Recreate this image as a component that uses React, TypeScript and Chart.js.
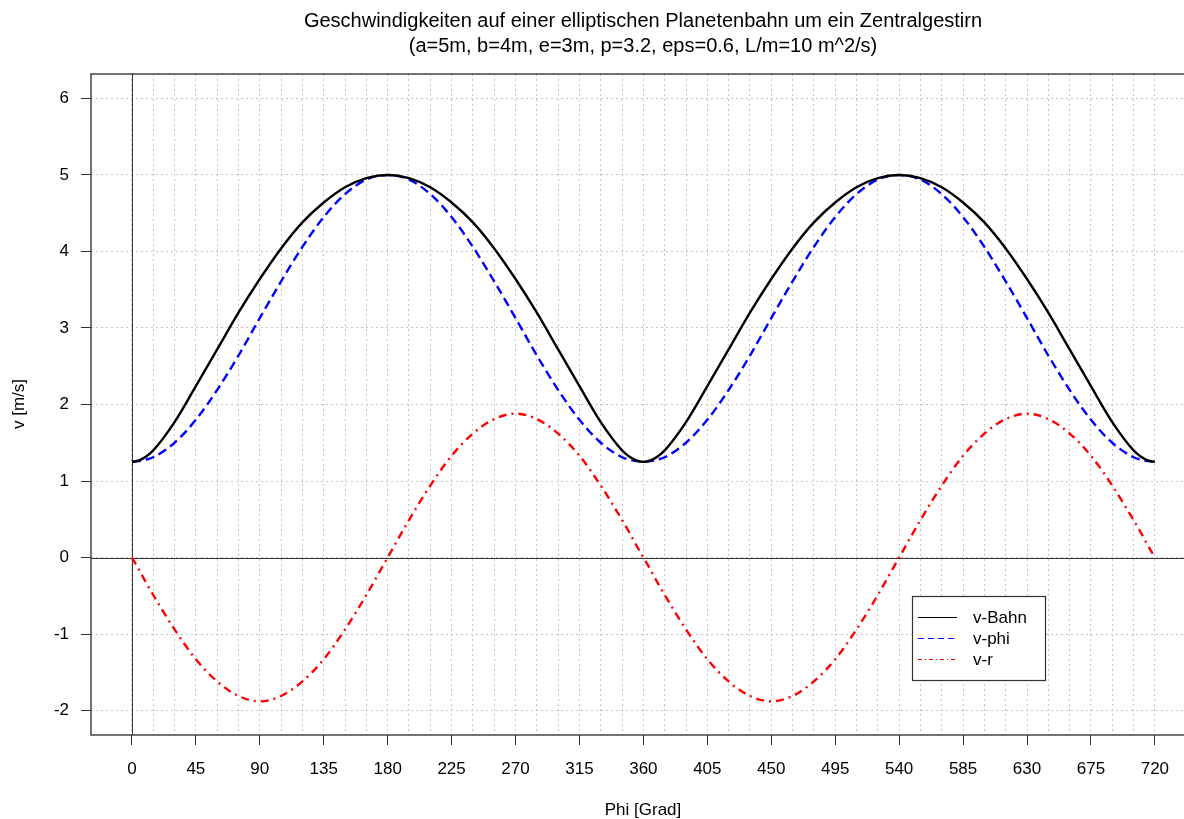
import React, { useEffect, useRef } from 'react';
import { Chart, registerables } from 'chart.js';

Chart.register(...registerables);

// ---- data ----
const phiDeg = [
  0, 5, 10, 15, 30, 45, 60, 75, 90, 105, 120, 135, 150, 165, 180, 195, 210, 225, 240, 255, 270, 285, 300, 315, 330, 345,
  350, 355, 360, 365, 370,
  375, 390, 405, 420, 435, 450, 465, 480, 495, 510, 525, 540, 555, 570, 585, 600, 615, 630, 645, 660, 675, 690, 705,
  710, 715, 720,
];
const vBahn = [
  1.25, 1.27, 1.32, 1.40, 1.77, 2.24, 2.72, 3.20, 3.64, 4.04, 4.38, 4.64, 4.84, 4.96, 5.0, 4.96, 4.84, 4.64, 4.38, 4.04, 3.64, 3.20, 2.72, 2.24, 1.77, 1.40,
  1.32, 1.27, 1.25, 1.27, 1.32,
  1.40, 1.77, 2.24, 2.72, 3.20, 3.64, 4.04, 4.38, 4.64, 4.84, 4.96, 5.0, 4.96, 4.84, 4.64, 4.38, 4.04, 3.64, 3.20, 2.72, 2.24, 1.77, 1.40,
  1.32, 1.27, 1.25,
];
const vPhi = [
  1.25, 1.26, 1.28, 1.31, 1.50, 1.80, 2.19, 2.64, 3.13, 3.61, 4.06, 4.45, 4.75, 4.94, 5.0, 4.94, 4.75, 4.45, 4.06, 3.61, 3.13, 2.64, 2.19, 1.80, 1.50, 1.31,
  1.28, 1.26, 1.25, 1.26, 1.28,
  1.31, 1.50, 1.80, 2.19, 2.64, 3.13, 3.61, 4.06, 4.45, 4.75, 4.94, 5.0, 4.94, 4.75, 4.45, 4.06, 3.61, 3.13, 2.64, 2.19, 1.80, 1.50, 1.31,
  1.28, 1.26, 1.25,
];
const vR = [
  0, -0.16, -0.33, -0.49, -0.94, -1.33, -1.62, -1.81, -1.88, -1.81, -1.62, -1.33, -0.94, -0.49, 0, 0.49, 0.94, 1.33, 1.62, 1.81, 1.88, 1.81, 1.62, 1.33, 0.94, 0.49,
  0.33, 0.16, 0, -0.16, -0.33,
  -0.49, -0.94, -1.33, -1.62, -1.81, -1.88, -1.81, -1.62, -1.33, -0.94, -0.49, 0, 0.49, 0.94, 1.33, 1.62, 1.81, 1.88, 1.81, 1.62, 1.33, 0.94, 0.49,
  0.33, 0.16, 0,
];

const xTickValues = [0, 45, 90, 135, 180, 225, 270, 315, 360, 405, 450, 495, 540, 585, 630, 675, 720];
const xGridStep = 15;
const yTickValues = [-2, -1, 0, 1, 2, 3, 4, 5, 6];

const titleLines = [
  'Geschwindigkeiten auf einer elliptischen Planetenbahn um ein Zentralgestirn',
  '(a=5m, b=4m, e=3m, p=3.2, eps=0.6, L/m=10 m^2/s)',
];
const xTitle = 'Phi [Grad]';
const yTitle = 'v [m/s]';
const seriesNames = ['v-Bahn', 'v-phi', 'v-r'];
const seriesColors = ['#000000', '#0000ff', '#ff0000'];
const seriesDash = [[], [9, 5], [8, 5, 2, 5]];
const legendDash = [[], [6, 4], [4, 3, 1, 3]];

const FONT = "'Liberation Sans', Arial, sans-serif";
const W = 1184;
const H = 819;

const decorPlugin = {
  id: 'decor',
  beforeDatasetsDraw(chart: any) {
    const { ctx, chartArea: a, scales } = chart;
    const x0 = scales.x.getPixelForValue(0);
    const y0 = scales.y.getPixelForValue(0);
    ctx.save();
    ctx.strokeStyle = '#333';
    ctx.lineWidth = 1;
    ctx.setLineDash([]);
    ctx.beginPath();
    ctx.moveTo(Math.round(x0) + 0.5, a.top);
    ctx.lineTo(Math.round(x0) + 0.5, a.bottom);
    ctx.moveTo(a.left, Math.round(y0) + 0.5);
    ctx.lineTo(a.right, Math.round(y0) + 0.5);
    ctx.stroke();
    // box (right side lies outside the canvas)
    ctx.lineWidth = 1.5;
    ctx.strokeStyle = '#444';
    ctx.strokeRect(a.left, a.top, a.right - a.left + 20, a.bottom - a.top);
    ctx.restore();
  },
  afterDraw(chart: any) {
    const { ctx } = chart;
    const cx = 643;
    ctx.save();
    ctx.fillStyle = '#000';
    ctx.textAlign = 'center';
    ctx.textBaseline = 'middle';
    ctx.font = `20px ${FONT}`;
    ctx.fillText(titleLines[0], cx, 21);
    ctx.fillText(titleLines[1], cx, 46);
    ctx.font = `17px ${FONT}`;
    ctx.fillText(xTitle, cx, 810);
    ctx.save();
    ctx.translate(19, 404);
    ctx.rotate(-Math.PI / 2);
    ctx.fillText(yTitle, 0, 0);
    ctx.restore();

    // legend
    const bx = 912.5, by = 596.5, bw = 133, bh = 84;
    ctx.fillStyle = '#fff';
    ctx.fillRect(bx, by, bw, bh);
    ctx.strokeStyle = '#333';
    ctx.lineWidth = 1.2;
    ctx.setLineDash([]);
    ctx.strokeRect(bx, by, bw, bh);
    ctx.textAlign = 'left';
    ctx.font = `17px ${FONT}`;
    for (let i = 0; i < seriesNames.length; i++) {
      const y = 617 + i * 21.2;
      ctx.strokeStyle = seriesColors[i];
      ctx.lineWidth = 1;
      ctx.setLineDash(legendDash[i]);
      ctx.beginPath();
      ctx.moveTo(918, Math.round(y) + 0.5);
      ctx.lineTo(957, Math.round(y) + 0.5);
      ctx.stroke();
      ctx.setLineDash([]);
      ctx.fillStyle = '#000';
      ctx.fillText(seriesNames[i], 973, y + 1);
    }
    ctx.restore();
  },
};

export default function App() {
  const ref = useRef<HTMLCanvasElement>(null);
  useEffect(() => {
    document.body.style.margin = '0';
    const canvas = ref.current!;
    const datasets = [vBahn, vPhi, vR].map((vals, i) => ({
      label: seriesNames[i],
      data: phiDeg.map((x, j) => ({ x, y: vals[j] })),
      borderColor: seriesColors[i],
      backgroundColor: seriesColors[i],
      borderWidth: 2.4,
      borderDash: seriesDash[i],
      pointRadius: 0,
      fill: false,
      cubicInterpolationMode: 'monotone' as const,
    }));
    const chart = new Chart(canvas, {
      type: 'line',
      data: { datasets },
      plugins: [decorPlugin],
      options: {
        animation: false,
        responsive: false,
        layout: { padding: { top: 74, left: 0, right: 0, bottom: 0 } },
        plugins: { legend: { display: false }, title: { display: false }, tooltip: { enabled: false } },
        font: { family: FONT },
        scales: {
          x: {
            type: 'linear',
            min: -28.8,
            max: 740.5,
            afterBuildTicks: (scale: any) => {
              const t = [];
              for (let v = xTickValues[0]; v <= xTickValues[xTickValues.length - 1]; v += xGridStep) t.push({ value: v });
              scale.ticks = t;
            },
            afterFit: (scale: any) => {
              scale.height = 84;
            },
            ticks: {
              autoSkip: false,
              maxRotation: 0,
              padding: 14,
              color: '#000',
              font: { family: FONT, size: 17 },
              callback: (v: any) => (xTickValues.includes(Number(v)) ? String(v) : ''),
            },
            grid: {
              color: '#c4c4c4',
              lineWidth: 1,
              tickLength: 10,
              tickColor: (c: any) => (c.tick && xTickValues.includes(c.tick.value) ? '#333' : 'rgba(0,0,0,0)'),
            },
            border: { display: false, dash: [2, 3] },
          },
          y: {
            type: 'linear',
            min: -2.32,
            max: 6.32,
            afterBuildTicks: (scale: any) => {
              scale.ticks = yTickValues.map((v) => ({ value: v }));
            },
            afterFit: (scale: any) => {
              scale.width = 91;
            },
            ticks: {
              padding: 12,
              color: '#000',
              font: { family: FONT, size: 17 },
              callback: (v: any) => String(v),
            },
            grid: {
              color: '#c4c4c4',
              lineWidth: 1,
              tickLength: 10,
              tickColor: '#333',
            },
            border: { display: false, dash: [2, 3] },
          },
        },
      },
    } as any);
    return () => chart.destroy();
  }, []);
  return (
    <div style={{ position: 'fixed', left: 0, top: 0, width: W, height: H }}>
      <canvas ref={ref} width={W} height={H} style={{ width: W, height: H, display: 'block' }} />
    </div>
  );
}
